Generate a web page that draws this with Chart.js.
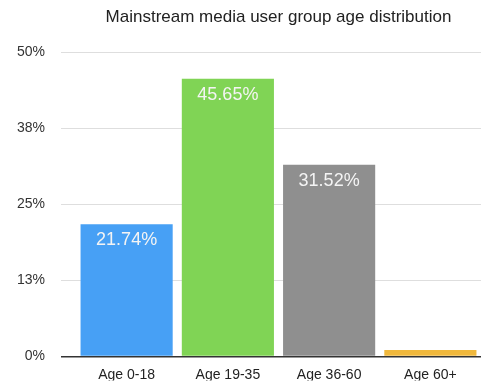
<!DOCTYPE html>
<html>
<head>
<meta charset="utf-8">
<script src="https://cdn.jsdelivr.net/npm/chart.js@4"></script>
<style>
  html, body { margin: 0; padding: 0; background: #fff; }
  #wrap { width: 485px; height: 381px; }
</style>
</head>
<body>
<div id="wrap"><canvas id="chart"></canvas></div>
<script>
// datos del gráfico
const categories = ['Age 0-18', 'Age 19-35', 'Age 36-60', 'Age 60+'];
const shares = [21.74, 45.65, 31.52, 1.09];
const barColors = ['#47a0f5', '#80d455', '#8f8f8f', '#f0b83c'];
const yTicks = [0, 12.5, 25, 37.5, 50];

const FONT = '"Liberation Sans", Arial, sans-serif';

// etiquetas blancas dentro de cada barra
const barLabels = {
    id: 'barLabels',
    afterDatasetsDraw(chart) {
        const ctx = chart.ctx;
        const meta = chart.getDatasetMeta(0);
        ctx.save();
        ctx.font = '18px ' + FONT;
        ctx.fillStyle = '#f4f4f4';
        ctx.textAlign = 'center';
        ctx.textBaseline = 'middle';
        meta.data.forEach((bar, i) => {
            if (shares[i] < 5) return;
            ctx.fillText(shares[i].toFixed(2) + '%', bar.x, bar.y + 16);
        });
        ctx.restore();
    }
};

new Chart(document.getElementById('chart'), {
    type: 'bar',
    data: {
        labels: categories,
        datasets: [{
            data: shares,
            backgroundColor: barColors,
            barPercentage: 0.91,
            categoryPercentage: 1
        }]
    },
    options: {
        responsive: true,
        maintainAspectRatio: false,
        animation: false,
        layout: { padding: { left: 0, right: 4, top: 0, bottom: 0 } },
        plugins: {
            legend: { display: false },
            tooltip: { enabled: false },
            title: {
                display: true,
                text: 'Mainstream media user group age distribution',
                fullSize: false,
                color: '#222',
                font: { family: FONT, size: 17, weight: 'normal' },
                padding: { top: 7, bottom: 25 }
            }
        },
        scales: {
            x: {
                grid: { display: false, drawTicks: false },
                border: { display: false },
                ticks: {
                    color: '#222',
                    padding: 10,
                    font: { family: FONT, size: 14 }
                },
                afterFit: (scale) => { scale.height = 24; }
            },
            y: {
                min: 0,
                max: 50,
                afterBuildTicks: (scale) => { scale.ticks = yTicks.map(v => ({ value: v })); },
                grid: {
                    color: (c) => c.tick && c.tick.value === 0 ? '#333' : '#dedede',
                    lineWidth: (c) => c.tick && c.tick.value === 0 ? 1.5 : 1,
                    tickLength: 15
                },
                border: { display: false },
                ticks: {
                    color: '#333',
                    padding: 16,
                    font: { family: FONT, size: 14 },
                    callback: (v) => Math.round(v) + '%'
                },
                afterFit: (scale) => { scale.width = 76; }
            }
        }
    },
    plugins: [barLabels]
});
</script>
</body>
</html>
